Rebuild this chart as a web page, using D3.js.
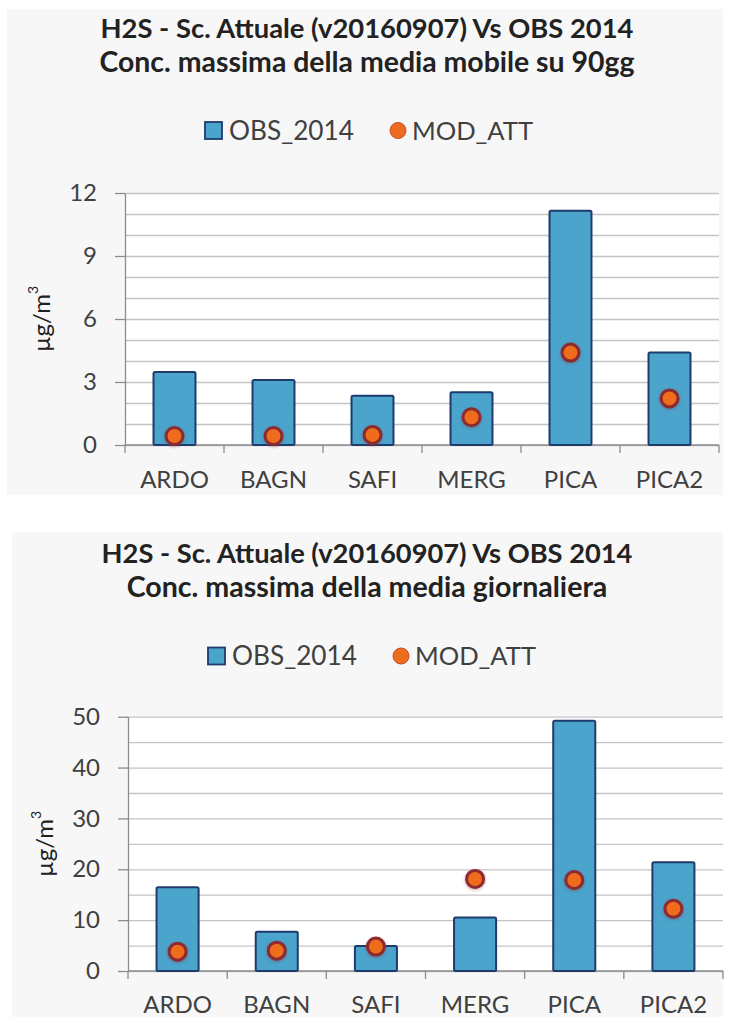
<!DOCTYPE html>
<html>
<head>
<meta charset="utf-8">
<script src="https://cdn.jsdelivr.net/npm/d3@7"></script>
<style>
  html, body { margin: 0; padding: 0; background: #ffffff; }
  svg { display: block; font-family: Lato, "Open Sans", sans-serif; }
</style>
</head>
<body>
<svg id="chart" width="732" height="1017"></svg>
<script>
// Station codes shared by both panels
const stations = ["ARDO", "BAGN", "SAFI", "MERG", "PICA", "PICA2"];

// Panel 1: maximum of the 90-day moving average (µg/m³)
const obs90 = [3.48, 3.10, 2.34, 2.51, 11.16, 4.40];
const mod90 = [0.43, 0.43, 0.48, 1.32, 4.40, 2.22];
const ticks90 = [0, 3, 6, 9, 12];

// Panel 2: maximum daily average (µg/m³)
const obsDay = [16.45, 7.73, 4.90, 10.50, 49.2, 21.4];
const modDay = [3.8, 4.0, 4.8, 18.1, 17.9, 12.25];
const ticksDay = [0, 10, 20, 30, 40, 50];

const seriesNames = ["OBS_2014", "MOD_ATT"];
const titleLine1 = "H2S - Sc. Attuale (v20160907) Vs OBS 2014";
const subtitle90 = "Conc. massima della media mobile su 90gg";
const subtitleDay = "Conc. massima della media giornaliera";

const BAR_FILL = "#4ba4cc", BAR_STROKE = "#1f3b6b";
const DOT_FILL = "#ee6c1d", DOT_STROKE = "#8c2a30";
const TEXT = "#404040", GRID = "#c4c4c4", AXIS = "#8c8c8c";

const svg = d3.select("#chart");
svg.append("rect").attr("width", 732).attr("height", 1017).attr("fill", "#ffffff");

const defs = svg.append("defs");
const glow = defs.append("filter").attr("id", "dotGlow")
  .attr("x", "-50%").attr("y", "-50%").attr("width", "200%").attr("height", "200%");
glow.append("feDropShadow").attr("dx", 0).attr("dy", 1).attr("stdDeviation", 1.4)
  .attr("flood-color", "#8c2a30").attr("flood-opacity", 0.45);

// Shrink or grow a text element's font so that it spans the given width
function fitWidth(sel, width) {
  const node = sel.node();
  const fs = parseFloat(sel.attr("font-size"));
  const w = node.getComputedTextLength();
  if (w > 0) sel.attr("font-size", (fs * width / w).toFixed(2));
  return sel;
}

function drawPanel(cfg) {
  const g = svg.append("g");

  // panel background
  g.append("rect")
    .attr("x", cfg.panel.x).attr("y", cfg.panel.y)
    .attr("width", cfg.panel.w).attr("height", cfg.panel.h)
    .attr("fill", "#f7f7f7");

  // titles
  const t1 = g.append("text").attr("x", cfg.cx).attr("y", cfg.titleY[0])
    .attr("text-anchor", "middle").attr("font-weight", "bold")
    .attr("font-size", 22).attr("fill", "#222").text(cfg.title1);
  fitWidth(t1, cfg.titleW[0]);
  const t2 = g.append("text").attr("x", cfg.cx).attr("y", cfg.titleY[1])
    .attr("text-anchor", "middle").attr("font-weight", "bold")
    .attr("font-size", 22).attr("fill", "#222").text(cfg.title2);
  fitWidth(t2, cfg.titleW[1]);

  // legend
  const lg = g.append("g").attr("transform", `translate(${cfg.legendX},${cfg.legendY})`);
  lg.append("rect").attr("x", 0).attr("y", -8.5).attr("width", 17).attr("height", 17)
    .attr("fill", BAR_FILL).attr("stroke", BAR_STROKE).attr("stroke-width", 1.8);
  const l1 = lg.append("text").attr("x", 24).attr("y", 0).attr("dy", "0.36em")
    .attr("font-size", 24).attr("fill", TEXT).text(seriesNames[0]);
  fitWidth(l1, 125);
  lg.append("circle").attr("cx", 193).attr("cy", 0).attr("r", 8)
    .attr("fill", DOT_FILL).attr("stroke", "#c0502a").attr("stroke-width", 1);
  const l2 = lg.append("text").attr("x", 207).attr("y", 0).attr("dy", "0.36em")
    .attr("font-size", 24).attr("fill", TEXT).text(seriesNames[1]);
  fitWidth(l2, 121);

  const p = cfg.plot;
  const yMax = d3.max(cfg.ticks);
  const y = d3.scaleLinear().domain([0, yMax]).range([p.bottom, p.top]);
  const x = d3.scaleBand().domain(stations).range([p.left, p.right])
    .paddingInner(0.576).paddingOuter(0.288);
  const xEdge = d3.scaleLinear().domain([0, stations.length]).range([p.left, p.right]);

  // plot area
  g.append("rect").attr("x", p.left).attr("y", p.top)
    .attr("width", p.right - p.left).attr("height", p.bottom - p.top)
    .attr("fill", "#ffffff");

  // horizontal gridlines
  const gridVals = d3.range(0, yMax + cfg.gridStep / 2, cfg.gridStep);
  g.append("g").attr("transform", `translate(${p.left},0)`)
    .call(d3.axisLeft(y).tickValues(gridVals).tickSize(-(p.right - p.left)).tickFormat(""))
    .call(a => a.select(".domain").remove())
    .call(a => a.selectAll("line").attr("stroke", GRID).attr("stroke-width", 1.3));

  // y axis with labelled ticks
  g.append("g").attr("transform", `translate(${p.left},0)`)
    .call(d3.axisLeft(y).tickValues(cfg.ticks).tickSize(10).tickPadding(18).tickSizeOuter(0))
    .call(a => a.select(".domain").attr("stroke", AXIS).attr("stroke-width", 1.3))
    .call(a => a.selectAll("line").attr("stroke", AXIS).attr("stroke-width", 1.3))
    .call(a => a.selectAll("text").attr("font-size", 24).attr("fill", TEXT)
      .attr("font-family", "Lato, 'Open Sans', sans-serif"));

  // x axis baseline and category separators
  g.append("line").attr("x1", p.left).attr("x2", p.right)
    .attr("y1", y(0)).attr("y2", y(0)).attr("stroke", AXIS).attr("stroke-width", 1.3);
  g.append("g").selectAll("line").data(d3.range(stations.length + 1)).join("line")
    .attr("x1", d => xEdge(d)).attr("x2", d => xEdge(d))
    .attr("y1", y(0)).attr("y2", y(0) + 8)
    .attr("stroke", AXIS).attr("stroke-width", 1.3);

  // category labels
  g.append("g").attr("transform", `translate(0,${p.bottom})`)
    .call(d3.axisBottom(x).tickSize(0))
    .call(a => a.select(".domain").remove())
    .call(a => a.selectAll("text").attr("y", cfg.catOffset).attr("dy", null)
      .attr("font-size", 24).attr("fill", TEXT)
      .attr("font-family", "Lato, 'Open Sans', sans-serif"));

  // y axis title µg/m³
  const yl = g.append("text")
    .attr("transform", `translate(${cfg.yLabelX},${(p.top + p.bottom) / 2}) rotate(-90)`)
    .attr("text-anchor", "middle").attr("dy", "0.35em")
    .attr("font-size", 24).attr("fill", "#222");
  yl.append("tspan").text("µg/m");
  yl.append("tspan").attr("font-size", 14).attr("dy", "-0.9em").text("3");

  // observed bars
  g.append("g").selectAll("rect").data(cfg.obs).join("rect")
    .attr("x", (d, i) => x(stations[i]))
    .attr("y", d => y(d))
    .attr("width", x.bandwidth())
    .attr("height", d => y(0) - y(d))
    .attr("rx", 1.5)
    .attr("fill", BAR_FILL).attr("stroke", BAR_STROKE).attr("stroke-width", 2);

  // modelled values
  g.append("g").selectAll("circle").data(cfg.mod).join("circle")
    .attr("cx", (d, i) => x(stations[i]) + x.bandwidth() / 2)
    .attr("cy", d => y(d))
    .attr("r", 8.5)
    .attr("fill", DOT_FILL).attr("stroke", DOT_STROKE).attr("stroke-width", 3)
    .attr("filter", "url(#dotGlow)");
}

drawPanel({
  title1: titleLine1, title2: subtitle90,
  obs: obs90, mod: mod90, ticks: ticks90, gridStep: 1,
  panel: { x: 7, y: 9, w: 716, h: 486 },
  plot: { left: 125, right: 719, top: 193, bottom: 445 },
  cx: 367, titleY: [38, 72], titleW: [533, 535],
  legendX: 205, legendY: 130.5, yLabelX: 42, catOffset: 43
});

drawPanel({
  title1: titleLine1, title2: subtitleDay,
  obs: obsDay, mod: modDay, ticks: ticksDay, gridStep: 5,
  panel: { x: 12, y: 532, w: 711, h: 485 },
  plot: { left: 128, right: 723, top: 716.7, bottom: 971 },
  cx: 367, titleY: [563, 597], titleW: [531, 481],
  legendX: 208, legendY: 656, yLabelX: 45, catOffset: 42
});
</script>
</body>
</html>
